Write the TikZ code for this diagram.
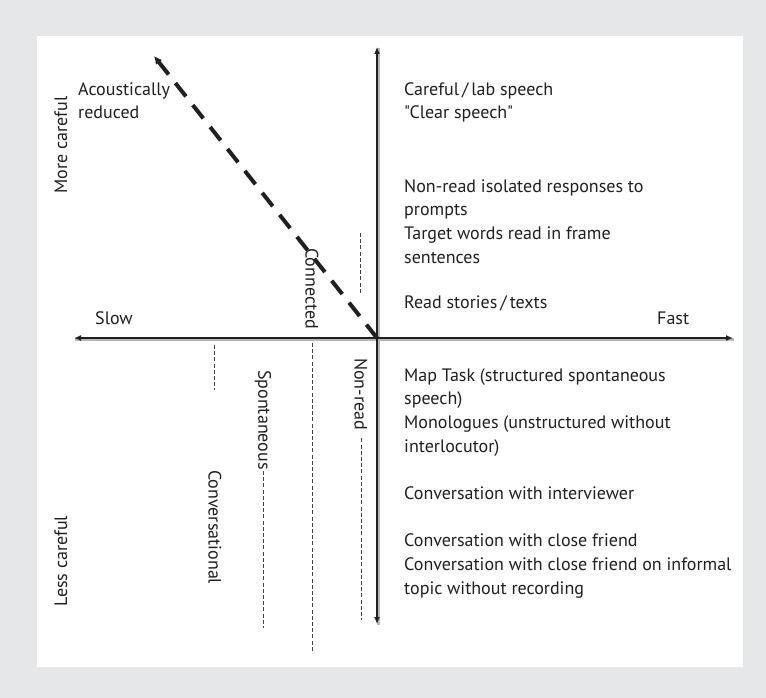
\documentclass[tikz,border=0pt]{standalone}
\usepackage{fontspec}
\setmainfont{PT Sans}[Ligatures=TeXOff]
\usetikzlibrary{arrows.meta}
\definecolor{bggray}{HTML}{E6E7E8}
\definecolor{ink}{HTML}{231F20}
\definecolor{shade}{HTML}{B8B8B8}
\tikzset{
  txt/.style={inner sep=0pt, text=ink, font=\fontsize{18}{23.6}\selectfont, align=left, anchor=base west},
  vtxt/.style={inner sep=0pt, text=ink, font=\fontsize{18}{23.6}\selectfont, rotate=-90, anchor=west},
  utxt/.style={inner sep=0pt, text=ink, font=\fontsize{18}{23.6}\selectfont, rotate=90},
  axis/.style={line width=2.6pt, draw=ink, {Latex[length=7pt,width=6pt]}-{Latex[length=7pt,width=6pt]}},
  axisshade/.style={line width=2.6pt, draw=shade},
  thindash/.style={line width=0.9pt, draw=ink!85, dash pattern=on 4pt off 2.2pt},
  bigdash/.style={line width=4pt, draw=ink, dash pattern=on 17pt off 11pt, -{Latex[length=8pt,width=8pt]}}
}
\begin{document}
\begin{tikzpicture}[x=1pt,y=-1pt]
\useasboundingbox (0,0) rectangle (766,698);
\fill[bggray] (0,0) rectangle (766,698);
\fill[white] (37,36) rectangle (743,667);
% axis coordinates
\coordinate (O) at (377,338);
\coordinate (top) at (377,47);
\coordinate (bot) at (377,624);
\coordinate (left) at (74,338);
\coordinate (right) at (733,338);
\coordinate (tip) at (154,56);
% shadows
\draw[axisshade] ([shift={(1.2,1.2)}]top) -- ([shift={(1.2,1.2)}]bot);
\draw[axisshade] ([shift={(1.2,1.2)}]left) -- ([shift={(1.2,1.2)}]right);
% axes
\draw[axis] (top) -- (bot);
\draw[axis] (left) -- (right);
% diagonal
\draw[bigdash] (O) -- (tip);
% right-hand texts (anchored at baseline of last line)
\node[txt] (t1) at (404,119) {Careful\,/\,lab speech\\"Clear speech"};
\node[txt] (t2) at (404,263) {Non-read isolated responses to\\prompts\\Target words read in frame\\sentences};
\node[txt] (t3) at (404,308) {Read stories\,/\,texts};
\node[txt] (t4) at (404,452) {Map Task (structured spontaneous\\speech)\\Monologues (unstructured without\\interlocutor)};
\node[txt] (t5) at (404,499) {Conversation with interviewer};
\node[txt] (t6) at (404,594) {Conversation with close friend\\Conversation with close friend on informal\\topic without recording};
\node[txt] (acou) at (78,119) {Acoustically\\reduced};
\node[txt] (slow) at (95,324) {Slow};
\node[txt] (fast) at (657,324) {Fast};
\node[utxt] (more) at (61,145) {More careful};
\node[utxt] (less) at (61,561) {Less careful};
% vertical labels
\node[vtxt] (conn) at (312,248) {Connected};
\node[vtxt] (nonread) at (361,358) {Non-read};
\node[vtxt] (spont) at (263,370) {Spontaneous};
\node[vtxt] (conv) at (215,470) {Conversational};
% thin dashed lines
\coordinate (nrtop1) at (360,233);
\coordinate (nrtop2) at (360,293);
\coordinate (nrend) at (361,620);
\coordinate (spend) at (263,628);
\coordinate (cn1) at (312,343);
\coordinate (cnend) at (312,653);
\coordinate (cv1) at (214,345);
\coordinate (cv2) at (214,390);
\draw[thindash] (nrtop1) -- (nrtop2);
\draw[thindash] ([yshift=-8pt]nonread.east) -- (nrend);
\draw[thindash] ([yshift=-1pt]spont.east) -- (spend);
\draw[thindash] (cn1) -- (cnend);
\draw[thindash] (cv1) -- (cv2);
\end{tikzpicture}
\end{document}
